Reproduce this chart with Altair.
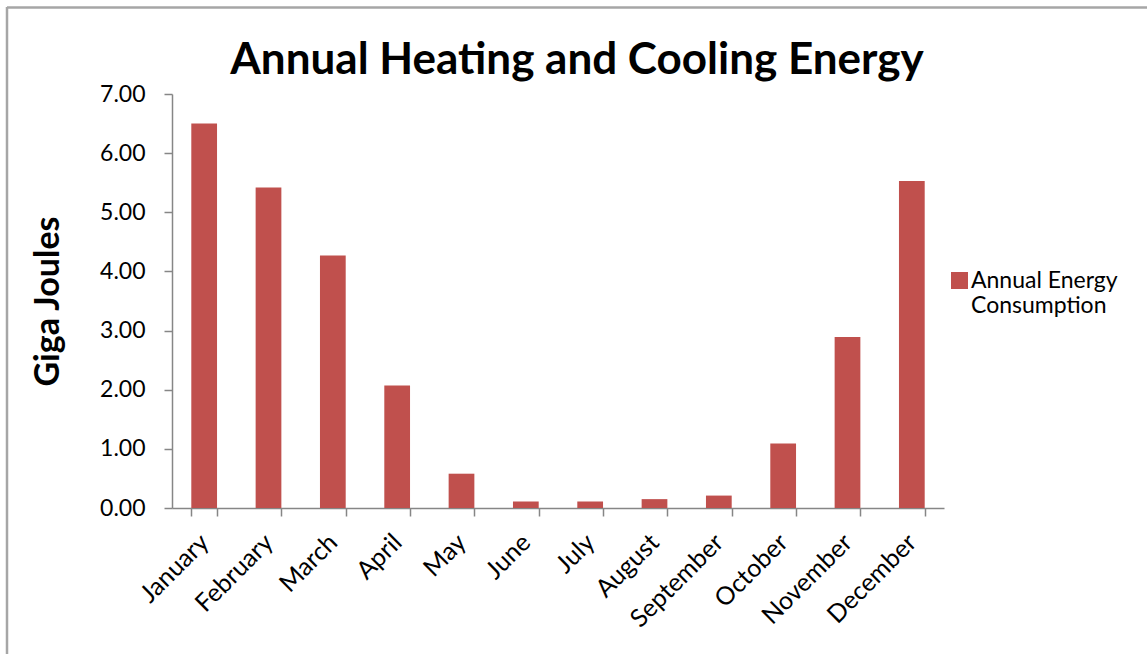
import altair as alt
import pandas as pd

months = ["January", "February", "March", "April", "May", "June", "July",
          "August", "September", "October", "November", "December"]
energy = [6.50, 5.42, 4.27, 2.07, 0.58, 0.11, 0.11, 0.15, 0.21, 1.09, 2.89, 5.53]
series = "Annual Energy Consumption"
y_ticks = [0, 1, 2, 3, 4, 5, 6, 7]

df = pd.DataFrame({"Month": months, "Energy": energy, "Series": [series] * len(months)})

FONT = "Lato"
RED = "#C0504D"
AXIS_GRAY = "#868686"
BORDER = "#A6A6A6"

W, H = 772, 414
LEFT, TOP = 172, 94

bars = alt.Chart(df).mark_bar(color=RED).encode(
    x=alt.X("Month:N", sort=months,
            scale=alt.Scale(paddingInner=0.6, paddingOuter=0.3),
            axis=alt.Axis(title=None, labelAngle=-45, labelAlign="right",
                          labelBaseline="middle", tickBand="extent",
                          labelFont=FONT, labelFontSize=25, labelColor="#000000",
                          labelPadding=22, tickSize=8, tickColor=AXIS_GRAY,
                          domainColor=AXIS_GRAY, domainWidth=1.5, tickWidth=1.5,
                          grid=False)),
    y=alt.Y("Energy:Q",
            scale=alt.Scale(domain=[0, 7], nice=False),
            axis=alt.Axis(title="Giga Joules", values=y_ticks, format=".2f",
                          labelFont=FONT, labelFontSize=23, labelColor="#000000",
                          labelPadding=19, tickSize=8, tickColor=AXIS_GRAY,
                          domainColor=AXIS_GRAY, domainWidth=1.5, tickWidth=1.5,
                          grid=False,
                          titleFont=FONT, titleFontSize=34, titleFontWeight="bold",
                          titleColor="#000000", titleAngle=-90, titleX=-124,
                          titleY=H / 2, titleAlign="center",
                          titleBaseline="middle")),
    color=alt.Color("Series:N", scale=alt.Scale(range=[RED]),
                    legend=alt.Legend(title=None, orient="none", legendX=776,
                                      legendY=175, padding=0,
                                      symbolType="square", symbolSize=289,
                                      symbolStrokeWidth=0,
                                      labelExpr="['Annual Energy', 'Consumption']",
                                      labelFont=FONT, labelFontSize=23,
                                      labelColor="#000000", labelBaseline="middle",
                                      labelOffset=0, labelLimit=300)),
)

frame = pd.DataFrame({"k": [0]})
top_rule = alt.Chart(frame).mark_rule(color=BORDER, strokeWidth=2.5).encode(
    x=alt.value(7 - LEFT), x2=alt.value(1147 - LEFT), y=alt.value(7.5 - TOP))
left_rule = alt.Chart(frame).mark_rule(color=BORDER, strokeWidth=2.5).encode(
    x=alt.value(7 - LEFT), y=alt.value(7 - TOP), y2=alt.value(654 - TOP))

chart = alt.layer(bars, top_rule, left_rule).properties(
    width=W, height=H,
    title=alt.TitleParams("Annual Heating and Cooling Energy", font=FONT,
                          fontSize=44, fontWeight="bold", color="#000000",
                          anchor="middle", dx=19, offset=-112,
                          baseline="alphabetic"),
    autosize=alt.AutoSizeParams(type="none"),
    padding={"left": LEFT, "top": TOP, "right": 1147 - LEFT - W, "bottom": 654 - TOP - H},
).configure(background="white", view=alt.ViewConfig(stroke=None))

chart.save("out.html", embed_options={"renderer": "svg", "actions": False})
